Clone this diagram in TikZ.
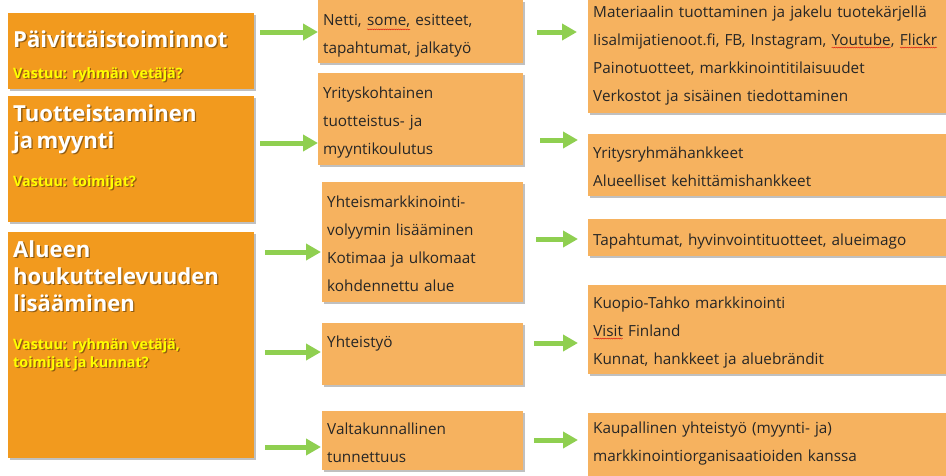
\documentclass[tikz,border=0pt]{standalone}
\usepackage{fontspec}
\setmainfont{Open Sans}
\usetikzlibrary{arrows.meta,shadows,positioning,decorations.pathmorphing}

\definecolor{boxdark}{HTML}{F29A1E}
\definecolor{boxlight}{HTML}{F6B25F}
\definecolor{arrowgreen}{HTML}{8FCF50}
\definecolor{vastuu}{HTML}{FFFF00}
\definecolor{txtdark}{HTML}{262626}

% text with a small drop shadow
\newcommand\shadetxt[1]{\makebox[0pt][l]{\hspace{1.3pt}\raisebox{-1.3pt}{\color{black!40!boxdark}#1}}#1}
% red spelling wave under a word
\newcommand\spellwave[1]{\tikz[baseline=(w.base)]{\node[inner sep=0pt, outer sep=0pt] (w) {#1};
    \draw[red!85!black, line width=.35pt, decorate, decoration={snake, amplitude=.5pt, segment length=2.2pt}]
        ([yshift=-2.2pt]w.south west) -- ([yshift=-2.2pt]w.south east);}}

\tikzset{
    box/.style 2 args={draw=none, anchor=north west, inner xsep=5pt, inner ysep=0pt,
        align=left, text height=#1pt, text depth=#2pt,
        drop shadow={shadow xshift=2pt, shadow yshift=-2pt, opacity=.35, fill=black!70}},
    darkbox/.style 2 args={box={#1}{#2}, fill=boxdark, text width=236pt, text=white},
    lightbox/.style 2 args={box={#1}{#2}, fill=boxlight, text=txtdark,
        font=\fontsize{15.3}{28}\selectfont},
    arrow/.style={draw=arrowgreen, line width=5pt,
        -{Triangle[length=15pt, width=16pt]}},
}
\newcommand\titlef{\fontsize{22.1}{27}\bfseries}
\newcommand\vastf{\fontsize{14.3}{18}\bfseries\color{vastuu}}

\begin{document}
\begin{tikzpicture}[x=1pt, y=-1pt]
    \useasboundingbox[fill=white] (0,0) rectangle (946,475);

    % left column
    \node[darkbox={34}{42}] (l1) at (8,13)
        {{\titlef\shadetxt{Päivittäistoiminnot}\par}\vspace{13pt}
         {\vastf\shadetxt{Vastuu: ryhmän vetäjä?}\par}};
    \node[darkbox={25}{101}] (l2) at (8,96)
        {{\titlef\shadetxt{Tuotteistaminen}\\\shadetxt{ja myynti}\par}\vspace{20pt}
         {\vastf\shadetxt{Vastuu: toimijat?}\par}};
    \node[darkbox={25}{201}] (l3) at (8,232)
        {{\titlef\shadetxt{Alueen}\\\shadetxt{houkuttelevuuden}\\\shadetxt{lisääminen}\par}\vspace{20pt}
         {\vastf\shadetxt{Vastuu: ryhmän vetäjä,}\\\shadetxt{toimijat ja kunnat?}\par}};

    % middle column
    \node[lightbox={25}{38}, text width=195pt] (m1) at (318,0)
        {Netti, \spellwave{some,} esitteet,\\tapahtumat, jalkatyö};
    \node[lightbox={25}{67}, text width=195pt] (m2) at (318,73)
        {Yrityskohtainen\\tuotteistus- ja\\myyntikoulutus};
    \node[lightbox={25}{95}, text width=191pt] (m3) at (322,182)
        {Yhteismarkkinointi-\\volyymin lisääminen\\Kotimaa ja ulkomaat\\kohdennettu alue};
    \node[lightbox={24}{38}, text width=191pt] (m4) at (322,323)
        {Yhteistyö};
    \node[lightbox={23}{36}, text width=191pt] (m5) at (322,411)
        {Valtakunnallinen\\tunnettuus};

    % right column
    \node[lightbox={17}{96}, text width=360pt] (r1) at (588,0)
        {Materiaalin tuottaminen ja jakelu tuotekärjellä\\
         Iisalmijatienoot.fi, FB, Instagram, \spellwave{Youtube}, \spellwave{Flickr}\\
         Painotuotteet, markkinointitilaisuudet\\
         Verkostot ja sisäinen tiedottaminen};
    \node[lightbox={24}{38}, text width=360pt] (r2) at (588,134)
        {Yritysryhmähankkeet\\Alueelliset kehittämishankkeet};
    \node[lightbox={26}{11}, text width=360pt] (r3) at (588,219)
        {Tapahtumat, hyvinvointituotteet, alueimago};
    \node[lightbox={23}{66}, text width=360pt] (r4) at (588,285)
        {Kuopio-Tahko markkinointi\\\spellwave{Visit} Finland\\Kunnat, hankkeet ja aluebrändit};
    \node[lightbox={20}{45}, text width=360pt] (r5) at (588,413)
        {Kaupallinen yhteistyö (myynti- ja)\\markkinointiorganisaatioiden kanssa};

    % arrows left -> middle
    \draw[arrow] ([xshift=6pt]l1.east |- 0,32) -- (m1.west |- 0,32);
    \draw[arrow] ([xshift=6pt]l2.east |- 0,143) -- (m2.west |- 0,143);
    \draw[arrow] ([xshift=11pt]l3.east |- 0,252) -- ([xshift=-1pt]m3.west |- 0,252);
    \draw[arrow] ([xshift=11pt]l3.east |- 0,352) -- ([xshift=-1pt]m4.west |- 0,352);
    \draw[arrow] ([xshift=11pt]l3.east |- 0,447) -- ([xshift=-1pt]m5.west |- 0,447);

    % arrows middle -> right
    \draw[arrow] ([xshift=14pt]m1.east |- 0,32) -- ([xshift=-11pt]r1.west |- 0,32);
    \draw[arrow] ([xshift=17pt]m2.east |- 0,140) -- ([xshift=-10pt]r2.west |- 0,140);
    \draw[arrow] ([xshift=13pt]m3.east |- 0,239) -- ([xshift=-10pt]r3.west |- 0,239);
    \draw[arrow] ([xshift=11pt]m4.east |- 0,343) -- ([xshift=-10pt]r4.west |- 0,343);
    \draw[arrow] ([xshift=11pt]m5.east |- 0,440) -- ([xshift=-10pt]r5.west |- 0,440);
\end{tikzpicture}
\end{document}
